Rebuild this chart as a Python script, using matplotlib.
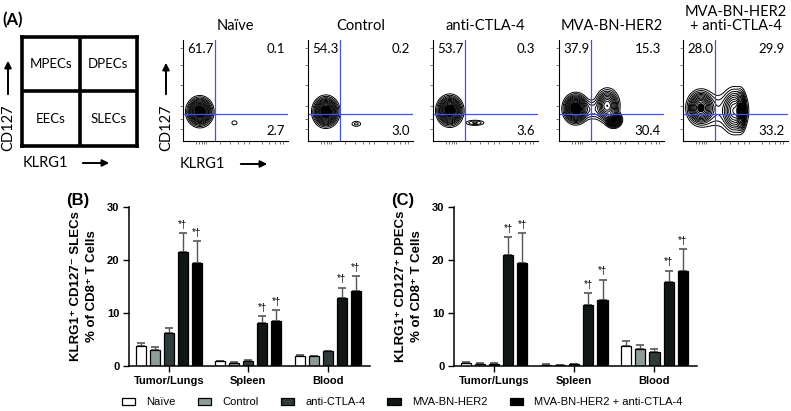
import numpy as np
import matplotlib.pyplot as plt
from matplotlib.patches import Patch, FancyArrowPatch

plt.rcParams['font.family'] = ['Liberation Sans', 'DejaVu Sans']

# ---- flow panels (A) ----
flow_titles = ["Naïve", "Control", "anti-CTLA-4", "MVA-BN-HER2", "MVA-BN-HER2\n+ anti-CTLA-4"]
q_upper_left = [61.7, 54.3, 53.7, 37.9, 28.0]
q_upper_right = [0.1, 0.2, 0.3, 15.3, 29.9]
q_lower_right = [2.7, 3.0, 3.6, 30.4, 33.2]
gate_x = 30
gate_y = 27
# populations: (center x, center y, spread x, spread y, weight)
pops_naive = [(16, 29, 4.6, 5.4, 1.0), (49, 18, 2.0, 1.6, 0.025)]
pops_control = [(17, 29, 4.6, 5.6, 1.0), (46, 17, 3.0, 1.8, 0.03)]
pops_anti = [(16, 30, 4.6, 5.6, 1.0), (40, 18, 5.0, 1.5, 0.05)]
pops_mva = [(16, 32, 4.5, 5.5, 1.0), (46, 35, 4.5, 6.5, 0.5), (52, 21, 3.0, 3.0, 0.8),
            (31, 31, 8.0, 5.0, 0.06)]
pops_combo = [(17, 33, 5.0, 6.5, 0.8), (49, 30, 5.0, 9.0, 0.45), (55, 30, 2.0, 7.5, 0.9),
              (33, 30, 12.0, 9.0, 0.05)]
flow_pops = [pops_naive, pops_control, pops_anti, pops_mva, pops_combo]

# ---- bar charts (B, C) ----
groups = ["Tumor/Lungs", "Spleen", "Blood"]
treatments = ["Naïve", "Control", "anti-CTLA-4", "MVA-BN-HER2", "MVA-BN-HER2 + anti-CTLA-4"]
bar_colors = ["white", "#8e9c99", "#2e3b3a", "#111716", "#000000"]
significant = [False, False, False, True, True]

slec_mean = [[3.75, 0.9, 1.95], [3.0, 0.6, 1.8], [6.15, 1.0, 2.8],
             [21.5, 8.2, 12.9], [19.4, 8.4, 14.2]]
slec_err = [[0.6, 0.12, 0.1], [0.5, 0.08, 0.1], [0.95, 0.1, 0.12],
            [3.5, 1.2, 1.9], [4.1, 2.2, 2.7]]
dpec_mean = [[0.65, 0.25, 3.75], [0.45, 0.2, 3.2], [0.45, 0.3, 2.65],
             [20.9, 11.5, 15.8], [19.4, 12.5, 18.0]]
dpec_err = [[0.18, 0.05, 0.95], [0.08, 0.04, 0.7], [0.12, 0.05, 0.6],
            [3.5, 2.3, 2.2], [5.6, 3.8, 4.0]]

W, H = 791, 411
fig = plt.figure(figsize=(W / 100, H / 100), dpi=100)


def rect(x0, y0, x1, y1):
    return [x0 / W, 1 - y1 / H, (x1 - x0) / W, (y1 - y0) / H]


def ftext(x, y, s, **kw):
    fig.text(x / W, 1 - y / H, s, **kw)


def arrow(x0, y0, x1, y1):
    fig.add_artist(FancyArrowPatch(
        (x0 / W, 1 - y0 / H), (x1 / W, 1 - y1 / H), transform=fig.transFigure,
        arrowstyle='-|>', mutation_scale=10, lw=1.4, color='black'))


calib = ['Lato', 'DejaVu Sans']

# schematic
axs = fig.add_axes(rect(22, 37, 137, 146))
axs.set_xlim(0, 2)
axs.set_ylim(0, 2)
axs.set_xticks([])
axs.set_yticks([])
for sp in axs.spines.values():
    sp.set_linewidth(2.6)
axs.axvline(1, color='black', lw=2.6)
axs.axhline(1, color='black', lw=2.6)
for (x, y, s) in [(0.5, 1.5, "MPECs"), (1.5, 1.5, "DPECs"), (0.5, 0.5, "EECs"), (1.5, 0.5, "SLECs")]:
    axs.text(x, y, s, ha='center', va='center', fontsize=9.5, family=calib)

ftext(2, 20, "(A)", fontsize=12, fontweight='bold', family=calib, va='center')
ftext(8, 128, "CD127", rotation=90, ha='center', va='center', fontsize=10.5, family=calib)
arrow(8, 97, 8, 58)
ftext(23, 163, "KLRG1", ha='left', va='center', fontsize=10.5, family=calib)
arrow(80, 163, 112, 163)

ftext(166, 128, "CD127", rotation=90, ha='center', va='center', fontsize=10.5, family=calib)
arrow(166, 97, 166, 60)
ftext(180, 164, "KLRG1", ha='left', va='center', fontsize=10.5, family=calib)
arrow(238, 164, 270, 164)

# flow contour panels
gx, gy = np.meshgrid(np.linspace(0, 100, 300), np.linspace(0, 100, 300))
flow_left = [183, 308, 433, 559, 683]
levels = [0.012, 0.025, 0.045, 0.07, 0.1, 0.14, 0.19, 0.25, 0.32, 0.4, 0.5, 0.6, 0.72, 0.86]
for i, left in enumerate(flow_left):
    ax = fig.add_axes(rect(left, 40, left + 105, 141))
    dens = np.zeros_like(gx)
    for (cx, cy, sx, sy, w) in flow_pops[i]:
        dens += w * np.exp(-0.5 * (((gx - cx) / sx) ** 2 + ((gy - cy) / sy) ** 2))
    dens /= dens.max()
    ax.contourf(gx, gy, dens, levels=[0.62, 1.01], colors=['black'])
    ax.contour(gx, gy, dens, levels=levels, colors='black', linewidths=0.7)
    ax.axvline(gate_x, color='#4050ff', lw=0.9)
    ax.axhline(gate_y, color='#4050ff', lw=0.9)
    ax.set_xlim(0, 100)
    ax.set_ylim(0, 100)
    ax.spines['top'].set_visible(False)
    ax.spines['right'].set_visible(False)
    ax.spines['left'].set_linewidth(0.8)
    ax.spines['bottom'].set_linewidth(0.8)
    ax.set_xticks([12, 15, 18, 20, 22, 35, 45, 52, 58, 63, 75, 82, 88, 92, 95])
    ax.set_yticks([12, 22, 35, 55, 75, 92])
    ax.tick_params(length=2, width=0.5, labelbottom=False, labelleft=False, color='#444444')
    ax.text(4, 91, f"{q_upper_left[i]:.1f}", ha='left', va='center', fontsize=9.5, family=calib)
    ax.text(97, 91, f"{q_upper_right[i]:.1f}", ha='right', va='center', fontsize=9.5, family=calib)
    ax.text(97, 10, f"{q_lower_right[i]:.1f}", ha='right', va='center', fontsize=9.5, family=calib)
    ax.set_title(flow_titles[i], fontsize=10.5, family=calib, pad=7, linespacing=1.0)


# bar panels
def bar_panel(box, means, errs, ylabel, tag, tag_x):
    ax = fig.add_axes(rect(*box))
    x = np.arange(len(groups))
    step = 0.176
    for k in range(len(treatments)):
        pos = x + (k - 2) * step
        ax.bar(pos, means[k], width=0.126, color=bar_colors[k], edgecolor='black',
               linewidth=0.9, zorder=2)
        ax.errorbar(pos, means[k], yerr=[np.zeros(len(groups)), errs[k]], fmt='none',
                    ecolor='#555555', elinewidth=1.0, capsize=3, capthick=1.2, zorder=1)
        if significant[k]:
            for p, m, e in zip(pos, means[k], errs[k]):
                ax.text(p, m + e + 0.6, "*†", ha='center', va='bottom', fontsize=7)
    ax.set_ylim(0, 30)
    ax.set_xlim(-0.5, 2.53)
    ax.spines['top'].set_visible(False)
    ax.spines['right'].set_visible(False)
    ax.spines['left'].set_linewidth(1.1)
    ax.spines['bottom'].set_linewidth(1.1)
    ax.set_yticks([0, 10, 20, 30])
    ax.set_xticks(x)
    ax.set_xticklabels(groups, fontsize=8, fontweight='bold')
    for lab in ax.get_yticklabels():
        lab.set_fontweight('bold')
        lab.set_fontsize(8)
    ax.tick_params(length=4, width=1.0, pad=3)
    ax.set_ylabel(ylabel, fontsize=9.5, fontweight='bold', labelpad=6, linespacing=1.5)
    ftext(tag_x, 201, tag, fontsize=12, fontweight='bold', va='center')
    return ax


bar_panel((129, 207, 370, 366), slec_mean, slec_err,
          "KLRG1⁺ CD127⁻ SLECs\n% of CD8⁺ T Cells", "(B)", 66)
bar_panel((454, 207, 697, 366), dpec_mean, dpec_err,
          "KLRG1⁺ CD127⁺ DPECs\n% of CD8⁺ T Cells", "(C)", 391)

handles = [Patch(facecolor=c, edgecolor='black', linewidth=0.9) for c in bar_colors]
fig.legend(handles, treatments, loc='center', bbox_to_anchor=(402 / W, 1 - 402 / H),
           ncol=5, frameon=False, fontsize=8, handlelength=1.2, handleheight=0.6,
           handletextpad=1.0, columnspacing=2.0)

fig.savefig("out.png", dpi=100)
